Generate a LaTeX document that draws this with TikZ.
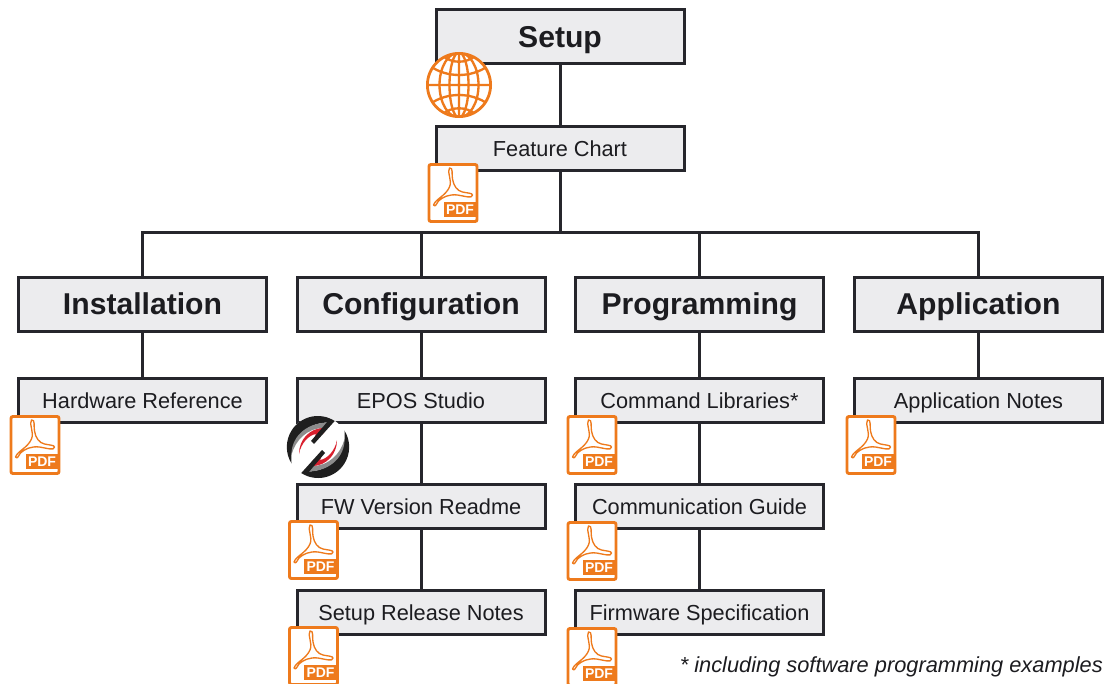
\documentclass[tikz,border=0pt]{standalone}
\usepackage{fontspec}
\setmainfont{Liberation Sans}
\definecolor{boxfill}{HTML}{ECECEE}
\definecolor{boxline}{HTML}{26262C}
\definecolor{textdark}{HTML}{1C1C20}
\definecolor{iconorange}{HTML}{EE7A1C}
\definecolor{logored}{HTML}{D9202E}
\tikzset{
  x=0.75pt,y=-0.75pt,
  wire/.style={draw=boxline,line width=2.25pt},
  headbox/.style={draw=boxline,fill=boxfill,line width=2.25pt,minimum width=186pt,minimum height=40.5pt,inner sep=0pt,
    font=\fontsize{22.6}{24}\selectfont\bfseries,text=textdark,text height=19pt,text depth=3.2pt},
  subbox/.style={draw=boxline,fill=boxfill,line width=2.25pt,minimum width=186pt,minimum height=33pt,inner sep=0pt,
    font=\fontsize{16.3}{18}\selectfont,text=textdark,text height=13.7pt,text depth=1.4pt},
  pdficon/.pic={
    \draw[iconorange,fill=white,line width=2.2pt,rounded corners=1.5pt] (1.5,1.5) rectangle (49.5,58.5);
    \fill[iconorange] (16,39) rectangle (50,54);
    \node[text=white,font=\fontsize{10.5}{12}\selectfont\bfseries,inner sep=0pt] (-label) at (32.5,46.7) {PDF};
    \draw[iconorange,line width=1pt,line join=round]
      (6,42) .. controls (8,36) and (18,33) .. (22,24)
      .. controls (25,17) and (19,9) .. (22,5)
      .. controls (26,4) and (24,12) .. (25,16)
      .. controls (26,23) and (30,28) .. (35,29)
      .. controls (39,30) and (45,30) .. (45,32)
      .. controls (45,36) and (37,33) .. (30,32)
      .. controls (22,31) and (15,34) .. (11,38)
      .. controls (9,40) and (8,45) .. (6,42) -- cycle;
  },
  globeicon/.pic={
    \fill[white] (0,0) circle[radius=32.5];
    \begin{scope}
      \clip (0,0) circle[radius=32.5];
      \draw[iconorange,line width=1.75pt]
        (-33,0) -- (33,0)
        (0,-33) -- (0,33)
        (0,0) ellipse[x radius=9.5,y radius=32.5]
        (0,0) ellipse[x radius=19.5,y radius=32.5]
        (-29,-19) .. controls (-12,-7) and (12,-7) .. (29,-19)
        (-17,-30) .. controls (-8,-21) and (8,-21) .. (17,-30)
        (-29,19) .. controls (-12,7) and (12,7) .. (29,19)
        (-17,30) .. controls (-8,21) and (8,21) .. (17,30);
    \end{scope}
    \draw[iconorange,line width=2.1pt] (0,0) circle[radius=31.6];
  },
  logohalf/.pic={
    \fill[black!88] (16.7,-26) arc[start angle=-57,end angle=-212,radius=31]
      .. controls (-29,-6) and (-14,-24) .. (10,-24.5) -- cycle;
    \fill[black!45] (10,-24.5) .. controls (-14,-24) and (-27,-8) .. (-26.5,8)
      .. controls (-23,-7) and (-10,-19) .. (5,-19) -- (-5,-6) -- cycle;
    \fill[logored] (4,-19) .. controls (-8,-18) and (-19,-8) .. (-19,7)
      .. controls (-17,-4) and (-9,-12) .. (-2,-13) -- (-4,-8) -- (6,-14) -- cycle;
    \fill[black!88] (16.7,-26) -- (-4,-3) -- (-7,-6) -- (10,-26) -- cycle;
  },
}
\begin{document}
\begin{tikzpicture}
\clip (0,0) rectangle (1119,684);
\path[use as bounding box] (0,0) rectangle (1119,684);
\fill[white] (0,0) rectangle (1119,684);

\node[headbox] (setup) at (560,36.5) {Setup};
\node[subbox] (feature) at (560,148.5) {Feature Chart};

\coordinate (bus) at (560,232);

\node[headbox] (install) at (142.5,304) {Installation};
\node[headbox] (config) at (421,304) {Configuration};
\node[headbox] (prog) at (699.5,304) {Programming};
\node[headbox] (app) at (978.5,304) {Application};

\node[subbox] (hw) at (142.5,400) {Hardware Reference};
\node[subbox] (epos) at (421,400) {EPOS Studio};
\node[subbox] (fw) at (421,506) {FW Version Readme};
\node[subbox] (notes) at (421,612) {Setup Release Notes};
\node[subbox] (cmd) at (699.5,400) {Command Libraries*};
\node[subbox] (comm) at (699.5,506) {Communication Guide};
\node[subbox] (spec) at (699.5,612) {Firmware Specification};
\node[subbox] (appn) at (978.5,400) {Application Notes};

\draw[wire] (setup) -- (feature);
\draw[wire] (feature) -- (bus);
\draw[wire] (install.north) |- (bus);
\draw[wire] (config.north) |- (bus);
\draw[wire] (prog.north) |- (bus);
\draw[wire] (app.north) |- (bus);
\draw[wire] (install) -- (hw);
\draw[wire] (config) -- (epos);
\draw[wire] (epos) -- (fw);
\draw[wire] (fw) -- (notes);
\draw[wire] (prog) -- (cmd);
\draw[wire] (cmd) -- (comm);
\draw[wire] (comm) -- (spec);
\draw[wire] (app) -- (appn);

\pic at (459,85) {globeicon};
\pic (p1) at (427.5,163) {pdficon};
\pic (p2) at (9.5,415) {pdficon};
\pic (p3) at (288,520) {pdficon};
\pic (p4) at (288,626) {pdficon};
\pic (p5) at (566.5,415) {pdficon};
\pic (p6) at (566.5,521) {pdficon};
\pic (p7) at (566.5,627) {pdficon};
\pic (p8) at (845.5,415) {pdficon};

\fill[white] (318,447) circle[radius=31];
\pic at (318,447) {logohalf};
\pic[rotate=180] at (318,447) {logohalf};

\node[anchor=east,inner sep=0pt,font=\fontsize{16.35}{18}\selectfont\itshape,text=textdark] (foot) at (1103,667) {* including software programming examples};
\end{tikzpicture}
\end{document}
